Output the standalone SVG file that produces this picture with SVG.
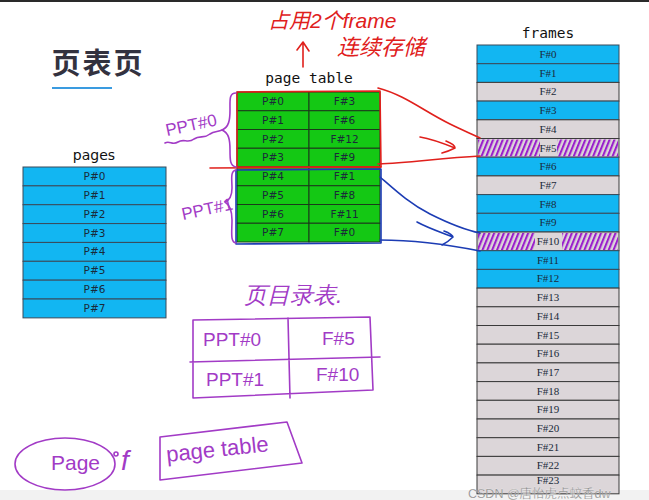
<svg xmlns="http://www.w3.org/2000/svg" width="649" height="500" viewBox="0 0 649 500">
<style>
.bg{fill:#ffffff}
.blue{fill:#12b6f2;stroke:#3a4a5a;stroke-width:1}
.gray{fill:#dcd6d9;stroke:#3a3a3a;stroke-width:1}
.green{fill:#14c814;stroke:#1a3a1a;stroke-width:1}
.cell{font-family:"DejaVu Sans","Liberation Sans",sans-serif;font-size:10.5px;fill:#1a2a3a;text-anchor:middle}
.fcell{font-family:"Liberation Serif","DejaVu Serif",serif;font-size:11px;fill:#1a2a3a;text-anchor:middle}
.head{font-family:"DejaVu Sans Mono","Liberation Mono",monospace;font-size:14.5px;fill:#111;text-anchor:middle}
.heads{font-family:"DejaVu Sans","Liberation Sans",sans-serif;font-size:14px;fill:#111;text-anchor:middle}
.pen{fill:none;stroke-linecap:round;stroke-linejoin:round;stroke-width:1.6}
.pur{stroke:#a23bc6}
.red{stroke:#e0201c}
.blu{stroke:#1c3cb4}
.ptxt{font-family:"Liberation Sans","DejaVu Sans",sans-serif;fill:#a23bc6}
.rtxt{font-family:"Liberation Sans","Noto Sans CJK SC",sans-serif;fill:#e0201c}
</style>
<defs>
<pattern id="hatch" width="4.5" height="20" patternUnits="userSpaceOnUse" patternTransform="rotate(22)">
<line x1="1" y1="0" x2="1" y2="20" stroke="#9a1fcc" stroke-width="2.2"/>
</pattern>
</defs>
<rect class="bg" x="0" y="0" width="649" height="500"/>
<rect x="0" y="0" width="649" height="2" fill="#2a2a2a"/>
<rect x="0" y="490" width="649" height="10" fill="#f2f2f2"/>

<g id="title">
<text x="98" y="74" font-family="'Noto Sans CJK SC',sans-serif" font-weight="bold" font-size="29" fill="#33323f" text-anchor="middle" letter-spacing="2">页表页</text>
<line x1="52" y1="88" x2="112" y2="88" stroke="#3a9be0" stroke-width="2"/>
</g>

<g id="pages">
<text class="heads" x="94" y="160">pages</text>
<rect class="blue" x="23" y="167" width="143" height="18.86"/>
<rect class="blue" x="23" y="185.86" width="143" height="18.86"/>
<rect class="blue" x="23" y="204.72" width="143" height="18.86"/>
<rect class="blue" x="23" y="223.58" width="143" height="18.86"/>
<rect class="blue" x="23" y="242.44" width="143" height="18.86"/>
<rect class="blue" x="23" y="261.3" width="143" height="18.86"/>
<rect class="blue" x="23" y="280.16" width="143" height="18.86"/>
<rect class="blue" x="23" y="299.02" width="143" height="18.86"/>
<text class="cell" x="94.5" y="180">P#0</text>
<text class="cell" x="94.5" y="198.9">P#1</text>
<text class="cell" x="94.5" y="217.7">P#2</text>
<text class="cell" x="94.5" y="236.6">P#3</text>
<text class="cell" x="94.5" y="255.4">P#4</text>
<text class="cell" x="94.5" y="274.3">P#5</text>
<text class="cell" x="94.5" y="293.2">P#6</text>
<text class="cell" x="94.5" y="312">P#7</text>
</g>

<g id="page-table">
<text class="head" x="309" y="83">page table</text>
<rect class="green" x="237" y="92" width="72" height="18.75"/><rect class="green" x="309" y="92" width="71" height="18.75"/>
<rect class="green" x="237" y="110.75" width="72" height="18.75"/><rect class="green" x="309" y="110.75" width="71" height="18.75"/>
<rect class="green" x="237" y="129.5" width="72" height="18.75"/><rect class="green" x="309" y="129.5" width="71" height="18.75"/>
<rect class="green" x="237" y="148.25" width="72" height="18.75"/><rect class="green" x="309" y="148.25" width="71" height="18.75"/>
<rect class="green" x="237" y="167" width="72" height="18.75"/><rect class="green" x="309" y="167" width="71" height="18.75"/>
<rect class="green" x="237" y="185.75" width="72" height="18.75"/><rect class="green" x="309" y="185.75" width="71" height="18.75"/>
<rect class="green" x="237" y="204.5" width="72" height="18.75"/><rect class="green" x="309" y="204.5" width="71" height="18.75"/>
<rect class="green" x="237" y="223.25" width="72" height="18.75"/><rect class="green" x="309" y="223.25" width="71" height="18.75"/>
<text class="cell" x="273" y="105">P#0</text><text class="cell" x="344.5" y="105">F#3</text>
<text class="cell" x="273" y="123.8">P#1</text><text class="cell" x="344.5" y="123.8">F#6</text>
<text class="cell" x="273" y="142.5">P#2</text><text class="cell" x="344.5" y="142.5">F#12</text>
<text class="cell" x="273" y="161.3">P#3</text><text class="cell" x="344.5" y="161.3">F#9</text>
<text class="cell" x="273" y="180">P#4</text><text class="cell" x="344.5" y="180">F#1</text>
<text class="cell" x="273" y="198.8">P#5</text><text class="cell" x="344.5" y="198.8">F#8</text>
<text class="cell" x="273" y="217.5">P#6</text><text class="cell" x="344.5" y="217.5">F#11</text>
<text class="cell" x="273" y="236.3">P#7</text><text class="cell" x="344.5" y="236.3">F#0</text>
</g>

<g id="frames">
<text class="head" x="548" y="38">frames</text>
<rect class="blue" x="477" y="45" width="142" height="18.7"/>
<rect class="blue" x="477" y="63.7" width="142" height="18.7"/>
<rect class="gray" x="477" y="82.4" width="142" height="18.7"/>
<rect class="blue" x="477" y="101.1" width="142" height="18.7"/>
<rect class="gray" x="477" y="119.8" width="142" height="18.7"/>
<rect class="gray" x="477" y="138.5" width="142" height="18.7"/>
<rect class="blue" x="477" y="157.2" width="142" height="18.7"/>
<rect class="gray" x="477" y="175.9" width="142" height="18.7"/>
<rect class="blue" x="477" y="194.6" width="142" height="18.7"/>
<rect class="blue" x="477" y="213.3" width="142" height="18.7"/>
<rect class="gray" x="477" y="232" width="142" height="18.7"/>
<rect class="blue" x="477" y="250.7" width="142" height="18.7"/>
<rect class="blue" x="477" y="269.4" width="142" height="18.7"/>
<rect class="gray" x="477" y="288.1" width="142" height="18.7"/>
<rect class="gray" x="477" y="306.8" width="142" height="18.7"/>
<rect class="gray" x="477" y="325.5" width="142" height="18.7"/>
<rect class="gray" x="477" y="344.2" width="142" height="18.7"/>
<rect class="gray" x="477" y="362.9" width="142" height="18.7"/>
<rect class="gray" x="477" y="381.6" width="142" height="18.7"/>
<rect class="gray" x="477" y="400.3" width="142" height="18.7"/>
<rect class="gray" x="477" y="419" width="142" height="18.7"/>
<rect class="gray" x="477" y="437.7" width="142" height="18.7"/>
<rect class="gray" x="477" y="456.4" width="142" height="18.7"/>
<rect class="gray" x="477" y="475.1" width="142" height="18.7"/>
<rect x="478" y="139.5" width="62" height="17" fill="url(#hatch)"/>
<rect x="557" y="139.5" width="61" height="17" fill="url(#hatch)"/>
<rect x="478" y="233" width="57" height="17" fill="url(#hatch)"/>
<rect x="562" y="233" width="56" height="17" fill="url(#hatch)"/>
<text class="fcell" x="548" y="58">F#0</text>
<text class="fcell" x="548" y="76.7">F#1</text>
<text class="fcell" x="548" y="95.4">F#2</text>
<text class="fcell" x="548" y="114.1">F#3</text>
<text class="fcell" x="548" y="132.8">F#4</text>
<text class="fcell" x="548" y="151.5">F#5</text>
<text class="fcell" x="548" y="170.2">F#6</text>
<text class="fcell" x="548" y="188.9">F#7</text>
<text class="fcell" x="548" y="207.6">F#8</text>
<text class="fcell" x="548" y="226.3">F#9</text>
<text class="fcell" x="548" y="245">F#10</text>
<text class="fcell" x="548" y="263.7">F#11</text>
<text class="fcell" x="548" y="282.4">F#12</text>
<text class="fcell" x="548" y="301.1">F#13</text>
<text class="fcell" x="548" y="319.8">F#14</text>
<text class="fcell" x="548" y="338.5">F#15</text>
<text class="fcell" x="548" y="357.2">F#16</text>
<text class="fcell" x="548" y="375.9">F#17</text>
<text class="fcell" x="548" y="394.6">F#18</text>
<text class="fcell" x="548" y="413.3">F#19</text>
<text class="fcell" x="548" y="432">F#20</text>
<text class="fcell" x="548" y="450.7">F#21</text>
<text class="fcell" x="548" y="469.4">F#22</text>
<text class="fcell" x="548" y="483.5" font-size="9.5">F#23</text>
</g>

<g id="connectors">
<path class="pen red" d="M237,92 L380,91 L381,167 L237,167 Z"/>
<path class="pen red" d="M210,168 L381,167"/>
<path class="pen red" d="M378,88 C405,95 425,112 450,124 C462,130 472,134 480,138"/>
<path class="pen red" d="M378,164 C410,163 440,158 480,156"/>
<path class="pen red" d="M420,137 C432,139 445,144 455,148 M446,141 C451,143 455,146 455,148 C451,150 446,152 442,153"/>
<path class="pen blu" d="M236,170 L381,169 L381,243 L236,244 Z"/>
<path class="pen blu" d="M380,177 C395,190 410,204 430,214 C450,224 465,230 480,233"/>
<path class="pen blu" d="M380,240 C410,240 445,244 480,251"/>
<path class="pen blu" d="M417,222 C428,228 440,232 453,237 M444,231 C450,233 453,236 453,237 C450,240 446,243 442,245"/>
<path class="pen red" d="M303,67 L303,42 M297,50 L303,42 L309,51"/>
</g>

<g id="note-frames">
<text class="rtxt" x="268" y="28" font-size="21" font-style="italic">占用2个frame</text>
<text class="rtxt" x="337" y="55" font-size="22" font-style="italic">连续存储</text>
</g>

<g id="ppt0">
<path class="pen pur" d="M236,93 C229,93 230,100 230,110 C230,120 229,127 222,130 C229,133 230,140 230,150 C230,160 230,166 236,167"/>
<path class="pen pur" d="M165,143 C170,140 172,146 178,142 C184,138 188,144 194,139 C200,135 204,139 210,134 C214,131 218,132 222,130"/>
<text class="ptxt" x="167" y="136" font-size="17" transform="rotate(-12 167 136)">PPT#0</text>
</g>
<g id="ppt1">
<path class="pen pur" d="M236,170 C230,171 232,180 232,188 C232,196 230,200 225,202 C230,205 232,210 232,220 C232,232 230,242 236,243"/>
<text class="ptxt" x="183" y="220" font-size="17" transform="rotate(-12 183 220)">PPT#1</text>
</g>

<g id="directory">
<text class="ptxt" x="244" y="303" font-size="23" font-family="'Noto Sans CJK SC',sans-serif" font-style="italic">页目录表.</text>
<path class="pen pur" d="M193,320 L370,317 L373,390 L193,398 Z M288,318 L290,398 M190,362 L380,357"/>
<text class="ptxt" x="203" y="346" font-size="19">PPT#0</text>
<text class="ptxt" x="322" y="345" font-size="19">F#5</text>
<text class="ptxt" x="206" y="386" font-size="19">PPT#1</text>
<text class="ptxt" x="316" y="381" font-size="19">F#10</text>
</g>

<g id="page-of-page-table">
<ellipse class="pen pur" cx="65" cy="464" rx="50" ry="26"/>
<text class="ptxt" x="51" y="470" font-size="21">Page</text>
<circle class="pen pur" cx="116" cy="454" r="2"/>
<text class="ptxt" x="121" y="470" font-size="28" font-style="italic">f</text>
<path class="pen pur" d="M160,437 L287,422 L302,463 L160,480 Z"/>
<text class="ptxt" x="167" y="462" font-size="22" transform="rotate(-6 167 462)">page table</text>
</g>

<text x="468" y="497.5" font-family="'Liberation Sans','Noto Sans CJK SC',sans-serif" font-size="12.5" fill="#707070" fill-opacity="0.9" stroke="#ffffff" stroke-width="0.4" stroke-opacity="0.6">CSDN @唐怡虎点蚊香dw</text>
</svg>
